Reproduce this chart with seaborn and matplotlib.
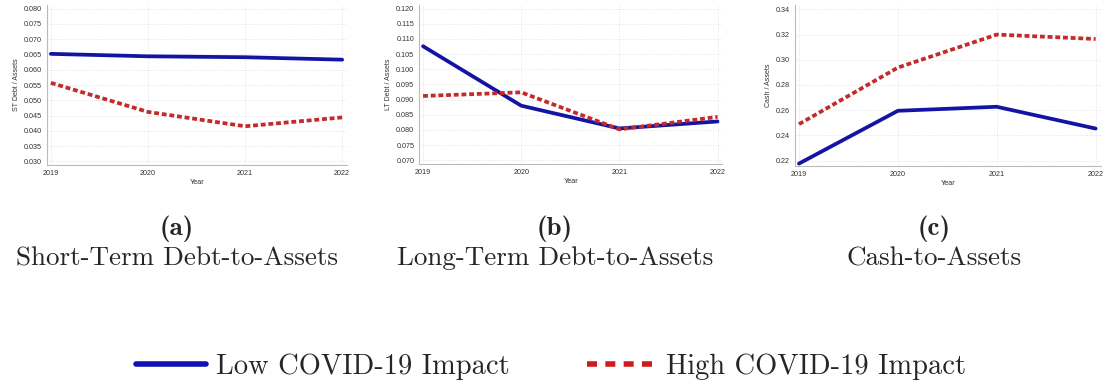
import numpy as np
import pandas as pd
import seaborn as sns
import matplotlib.pyplot as plt
from matplotlib.lines import Line2D

years = [2019, 2020, 2021, 2022]
groups = ["Low COVID-19 Impact", "High COVID-19 Impact"]

st_low = [0.0652, 0.0644, 0.0641, 0.0633]
st_high = [0.0557, 0.0462, 0.0415, 0.0444]
lt_low = [0.1076, 0.0880, 0.0805, 0.0828]
lt_high = [0.0912, 0.0924, 0.0802, 0.0843]
cash_low = [0.2176, 0.2595, 0.2627, 0.2454]
cash_high = [0.2489, 0.2938, 0.3200, 0.3165]

ylabels = ["ST Debt / Assets", "LT Debt / Assets", "Cash / Assets"]
letters = ["(a)", "(b)", "(c)"]
captions = ["Short-Term Debt-to-Assets", "Long-Term Debt-to-Assets", "Cash-to-Assets"]
yticks = [np.arange(0.030, 0.0801, 0.005), np.arange(0.070, 0.1201, 0.005), np.arange(0.22, 0.341, 0.02)]
ylims = [(0.0288, 0.0812), (0.0688, 0.1212), (0.2155, 0.3435)]
fmts = ["%.3f", "%.3f", "%.2f"]

series = [(st_low, st_high), (lt_low, lt_high), (cash_low, cash_high)]

sns.set_style("whitegrid")
plt.rcParams["font.family"] = ["Liberation Sans", "DejaVu Sans"]

W, H = 1103, 383
fig = plt.figure(figsize=(W / 100, H / 100), dpi=100)
positions = [(0.0426, 0.569, 0.272, 0.418), (0.380, 0.572, 0.275, 0.415), (0.7208, 0.566, 0.277, 0.421)]
caption_x = [177, 555, 934]

blue = "#1414a4"
red = "#c42a2a"

for i in range(3):
    ax = fig.add_axes(positions[i])
    low, high = series[i]
    df = pd.DataFrame({
        "Year": years * 2,
        "value": low + high,
        "group": [groups[0]] * 4 + [groups[1]] * 4,
    })
    sns.lineplot(data=df, x="Year", y="value", hue="group", style="group",
                 palette=[blue, red], dashes=[(None, None), (1.3, 0.75)],
                 linewidth=2.7, ax=ax, legend=False)
    ax.set_xlim(2018.96, 2022.05)
    ax.set_ylim(*ylims[i])
    ax.set_xticks(years)
    ax.set_yticks(yticks[i])
    ax.set_yticklabels([fmts[i] % v for v in yticks[i]])
    ax.set_xlabel("Year", fontsize=5.3, color="#333333", labelpad=1.5)
    ax.set_ylabel(ylabels[i], fontsize=5, color="#333333", labelpad=3)
    ax.tick_params(axis="both", labelsize=5.2, colors="#333333", length=2, width=0.5, pad=1.5)
    ax.grid(True, linestyle=":", linewidth=0.6, color="#dddddd")
    for s in ["top", "right"]:
        ax.spines[s].set_visible(False)
    for s in ["left", "bottom"]:
        ax.spines[s].set_color("#bbbbbb")
        ax.spines[s].set_linewidth(0.8)

    cx = caption_x[i] / W
    fig.text(cx, 1 - 235 / H, letters[i], ha="center", va="baseline",
             fontsize=19.5, family="cmb10")
    fig.text(cx, 1 - 265 / H, captions[i], ha="center", va="baseline",
             fontsize=19.5, family="cmr10")

handles = [Line2D([], [], color="#1010b4", linewidth=4),
           Line2D([], [], color="#cc1c1c", linewidth=4, linestyle=(0, (1.8, 1.5)))]
fig.legend(handles, groups, loc="center", bbox_to_anchor=(0.5, 1 - 367 / H),
           ncol=2, frameon=False, handlelength=2.45, columnspacing=2.7, handletextpad=0.35,
           prop={"family": "cmr10", "size": 20.5})

fig.savefig("out.png", dpi=100)
